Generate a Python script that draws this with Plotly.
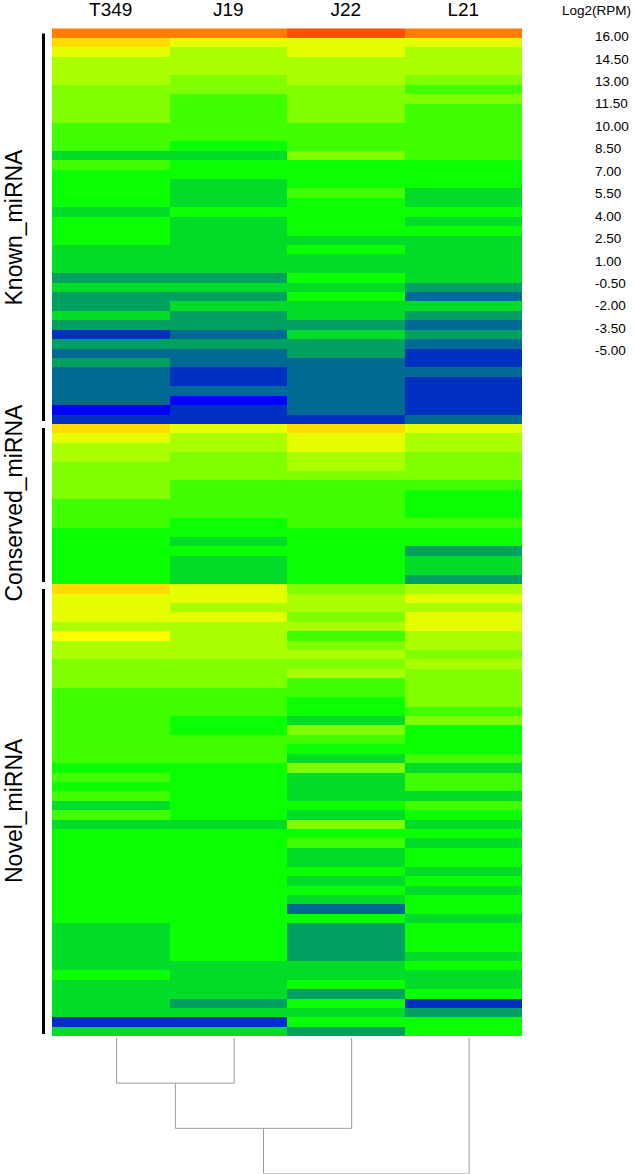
import plotly.graph_objects as go

W, H = 635, 1174

samples = ["T349", "J19", "J22", "L21"]

T349 = [13,11.5,8.5,7,7,7,5.5,5.5,5.5,5.5,
        4,4,4,1,4,2.5,2.5,2.5,2.5,1,
        2.5,2.5,2.5,1,1,1,-0.5,1,-0.5,-0.5,
        1,-0.5,-3.5,-0.5,-2,-0.5,-2,-2,-2,-2,
        -5,-3.5,11.5,8.5,7,7,5.5,5.5,5.5,5.5,
        4,4,4,2.5,2.5,2.5,2.5,2.5,2.5,11.5,
        8.5,8.5,8.5,7,10,7,7,5.5,5.5,5.5,
        4,4,4,4,4,4,4,4,2.5,4,
        2.5,4,1,4,1,2.5,2.5,2.5,2.5,2.5,
        2.5,2.5,2.5,2.5,2.5,1,1,1,1,1,
        2.5,1,1,1,1,-3.5,1]
J19 = [13,8.5,7,7,7,5.5,5.5,4,4,4,
       4,4,2.5,1,2.5,2.5,1,1,1,2.5,
       1,1,1,1,1,1,-0.5,1,-0.5,1,
       -0.5,-0.5,-2,-0.5,-2,-2,-3.5,-3.5,-2,-5,
       -3.5,-3.5,8.5,7,7,5.5,5.5,5.5,4,4,
       4,4,2.5,2.5,1,2.5,1,1,1,8.5,
       8.5,7,8.5,7,7,7,7,5.5,5.5,5.5,
       4,4,4,2.5,2.5,4,4,4,2.5,2.5,
       2.5,2.5,2.5,2.5,1,2.5,2.5,2.5,2.5,2.5,
       2.5,2.5,2.5,2.5,2.5,2.5,2.5,2.5,2.5,1,
       1,1,1,-0.5,1,-3.5,1]
J22 = [14.5,8.5,8.5,7,7,7,5.5,5.5,5.5,5.5,
       4,4,4,5.5,2.5,2.5,2.5,4,2.5,2.5,
       2.5,2.5,1,2.5,1,1,2.5,1,2.5,1,
       1,-0.5,1,-0.5,-0.5,-2,-2,-2,-2,-2,
       -2,-3.5,11.5,8.5,8.5,7,7,5.5,4,4,
       4,4,4,2.5,2.5,2.5,2.5,2.5,2.5,5.5,
       7,7,5.5,7,4,5.5,7,5.5,7,4,
       4,2.5,2.5,1,5.5,4,2.5,1,5.5,1,
       1,1,2.5,1,5.5,2.5,4,1,1,2.5,
       1,2.5,1,-2,2.5,-0.5,-0.5,-0.5,-0.5,1,
       1,2.5,-0.5,2.5,1,2.5,-0.5]
L21 = [13,8.5,7,7,7,5.5,4,5.5,4,4,
       4,4,4,4,2.5,2.5,2.5,1,1,2.5,
       1,2.5,1,1,1,1,1,-0.5,-2,1,
       -0.5,-2,-0.5,-2,-3.5,-3.5,-2,-3.5,-3.5,-3.5,
       -3.5,-2,8.5,7,7,5.5,5.5,5.5,4,2.5,
       2.5,2.5,4,2.5,2.5,-0.5,1,1,-0.5,7,
       8.5,7,8.5,8.5,7,7,5.5,7,5.5,5.5,
       5.5,5.5,4,5.5,2.5,2.5,2.5,4,1,4,
       4,1,4,2.5,1,2.5,1,2.5,2.5,1,
       2.5,1,2.5,2.5,1,2.5,2.5,2.5,1,2.5,
       1,1,2.5,-3.5,-0.5,2.5,2.5]

legend_title = "Log2(RPM)"
legend_labels = ["16.00","14.50","13.00","11.50","10.00","8.50","7.00","5.50",
                 "4.00","2.50","1.00","-0.50","-2.00","-3.50","-5.00"]
group_names = ["Known_miRNA", "Conserved_miRNA", "Novel_miRNA"]

# level -> colour (from low to high)
levels = [-5,-3.5,-2,-0.5,1,2.5,4,5.5,7,8.5,10,11.5,13,14.5,16]
level_colors = ["#0000ff","#0030c0","#006a94","#00a060","#00dc28","#0aff00","#40ff00",
                "#80ff00","#aaff00","#e6ff00","#ffff00","#ffdc00","#ff8000","#ff4f00","#ff0000"]

# dendrogram
leaf_offset = 0.05
merge_heights = [1, 2, 3]

assert all(len(c) == 107 for c in (T349, J19, J22, L21))

rows = list(range(len(T349)))
z = [list(r) for r in zip(T349, J19, J22, L21)]
colorscale = [[(v + 5) / 21, c] for v, c in zip(levels, level_colors)]

px = lambda x: x / W
py = lambda y: 1 - y / H

HEAT_L, HEAT_R, HEAT_T, HEAT_B = 52, 522, 28.3, 1036
FONT = "Liberation Sans, Arial, sans-serif"

fig = go.Figure()
fig.add_trace(go.Heatmap(x=samples, y=rows, z=z, colorscale=colorscale, zmin=-5, zmax=16,
                         showscale=False, xgap=0, ygap=0))

lx = [i + leaf_offset for i in range(4)]
h1, h2, h3 = merge_heights
m1 = (lx[0] + lx[1]) / 2
m2 = (m1 + lx[2]) / 2
dx = [lx[0], lx[0], lx[1], lx[1], None, m1, m1, lx[2], lx[2], None, m2, m2, lx[3], lx[3]]
dy = [0, h1, h1, 0, None, h1, h2, h2, 0, None, h2, h3, h3, 0]
fig.add_trace(go.Scatter(x=dx, y=dy, mode="lines", xaxis="x2", yaxis="y2", cliponaxis=False,
                         line=dict(color="#9a9a9a", width=1), hoverinfo="skip", showlegend=False))

annotations = []
annotations.append(dict(text=legend_title, x=px(560), y=py(11), xref="paper", yref="paper",
                        xanchor="left", yanchor="middle", showarrow=False,
                        font=dict(family=FONT, size=13.5, color="#000")))
for i, lab in enumerate(legend_labels):
    annotations.append(dict(text=lab, x=px(593), y=py(36.7 + 22.43 * i), xref="paper", yref="paper",
                            xanchor="left", yanchor="middle", showarrow=False,
                            font=dict(family=FONT, size=13.5, color="#000")))
shapes = []
for name, (t, b) in zip(group_names, [(33.5, 421), (428, 582), (589, 1034)]):
    shapes.append(dict(type="line", xref="paper", yref="paper", x0=px(43.5), x1=px(43.5),
                       y0=py(t), y1=py(b), line=dict(color="#000", width=3)))
for name, c in zip(group_names, [227, 503, 810.5]):
    annotations.append(dict(text=name, x=px(13.5), y=py(c), xref="paper", yref="paper",
                            xanchor="center", yanchor="middle", textangle=-90, showarrow=False,
                            font=dict(family=FONT, size=23, color="#000")))

fig.update_layout(
    width=W, height=H, autosize=False,
    margin=dict(l=0, r=0, t=0, b=0, autoexpand=False),
    paper_bgcolor="white", plot_bgcolor="white",
    showlegend=False,
    annotations=annotations, shapes=shapes,
    xaxis=dict(domain=[px(HEAT_L), px(HEAT_R)], side="top", range=[-0.5, 3.5], type="category",
               ticks="outside", ticklen=4, tickcolor="rgba(0,0,0,0)", showgrid=False, zeroline=False,
               showline=False, automargin=False, tickfont=dict(family=FONT, size=19, color="#000")),
    yaxis=dict(domain=[py(HEAT_B), py(HEAT_T)], range=[106.5, -0.5], visible=False),
    xaxis2=dict(domain=[px(HEAT_L), px(HEAT_R)], range=[-0.5, 3.5], visible=False, anchor="y2"),
    yaxis2=dict(domain=[py(1173.5), py(1038)], range=[3, 0], visible=False, anchor="x2"),
)

fig.write_html("out.html", config={"displayModeBar": False},
               post_script="document.body.style.margin='0';document.documentElement.style.overflow='hidden';")
